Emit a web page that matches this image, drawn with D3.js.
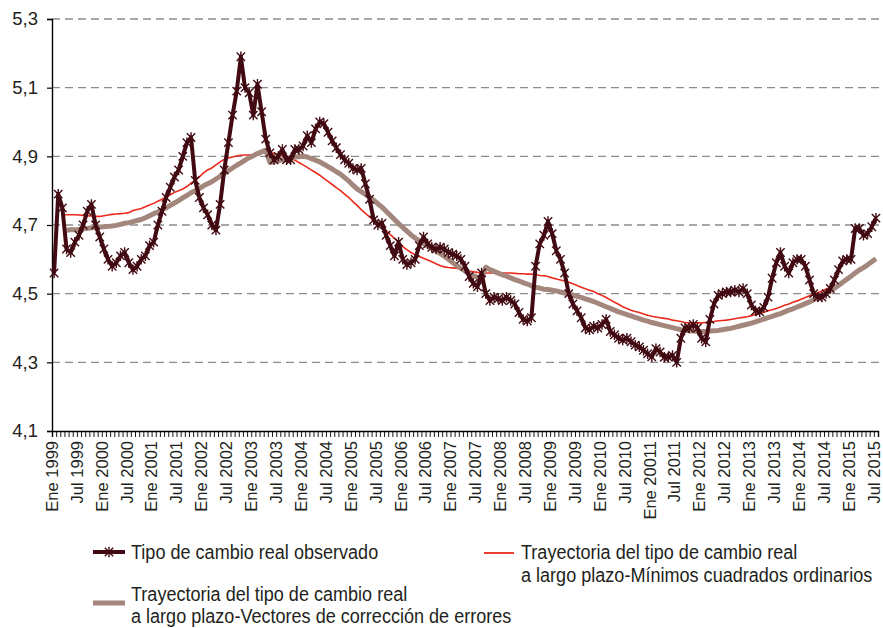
<!DOCTYPE html>
<html>
<head>
<meta charset="utf-8">
<script src="https://cdn.jsdelivr.net/npm/d3@7"></script>
<style>
  body { margin: 0; background: #fff; }
  text { font-family: "Liberation Sans", Arial, sans-serif; fill: #231f20; }
</style>
</head>
<body>
<svg id="chart" width="883" height="628"></svg>
<script>
// Monthly categories, Jan 1999 .. Jul 2015
const firstYear = 1999;
const monthCount = 199;
const categories = d3.range(monthCount).map(i => {
  const yr = firstYear + Math.floor(i / 12), mo = (i % 12) + 1;
  return yr + "-" + String(mo).padStart(2, "0");
});

// Tipo de cambio real observado (log)
const observed = [
  4.56, 4.79, 4.75, 4.63, 4.62, 4.65, 4.67, 4.70, 4.74, 4.76,
  4.70, 4.665, 4.63, 4.60, 4.58, 4.59, 4.61, 4.62, 4.59, 4.57,
  4.58, 4.60, 4.61, 4.64, 4.65, 4.70, 4.74, 4.78, 4.81, 4.84,
  4.86, 4.90, 4.94, 4.955, 4.83, 4.78, 4.75, 4.73, 4.70, 4.685,
  4.76, 4.86, 4.94, 5.02, 5.09, 5.19, 5.10, 5.085, 5.02, 5.11,
  5.03, 4.95, 4.91, 4.89, 4.90, 4.92, 4.89, 4.89, 4.92, 4.92,
  4.93, 4.96, 4.94, 4.98, 5.00, 4.995, 4.97, 4.945, 4.925, 4.905,
  4.89, 4.88, 4.865, 4.86, 4.865, 4.82, 4.775, 4.715, 4.70, 4.705,
  4.67, 4.64, 4.61, 4.65, 4.60, 4.585, 4.59, 4.60, 4.64, 4.665,
  4.645, 4.635, 4.63, 4.635, 4.63, 4.62, 4.615, 4.61, 4.60, 4.58,
  4.55, 4.53, 4.52, 4.56, 4.50, 4.48, 4.49, 4.485, 4.48, 4.49,
  4.48, 4.47, 4.445, 4.425, 4.42, 4.43, 4.58, 4.645, 4.67, 4.71,
  4.675, 4.625, 4.60, 4.56, 4.50, 4.47, 4.45, 4.43, 4.40, 4.395,
  4.405, 4.40, 4.41, 4.425, 4.39, 4.38, 4.37, 4.365, 4.37, 4.36,
  4.35, 4.345, 4.335, 4.325, 4.316, 4.34, 4.33, 4.315, 4.315, 4.32,
  4.30, 4.37, 4.40, 4.40, 4.41, 4.40, 4.37, 4.36, 4.425, 4.47,
  4.495, 4.50, 4.505, 4.505, 4.51, 4.505, 4.515, 4.50, 4.467, 4.45,
  4.447, 4.46, 4.49, 4.545, 4.59, 4.62, 4.58, 4.56, 4.59, 4.60,
  4.60, 4.58, 4.54, 4.50, 4.49, 4.49, 4.50, 4.515, 4.54, 4.57,
  4.595, 4.60, 4.60, 4.69, 4.69, 4.67, 4.675, 4.695, 4.72
];
const observedStart = "1999-01";

// Trayectoria de largo plazo - Mínimos cuadrados ordinarios
const ols = [
  4.730, 4.730, 4.730, 4.730, 4.729, 4.728, 4.727, 4.726,
  4.725, 4.725, 4.727, 4.729, 4.731, 4.732, 4.733, 4.734, 4.736, 4.742,
  4.745, 4.748, 4.753, 4.758, 4.763, 4.769, 4.775, 4.782, 4.788, 4.795,
  4.800, 4.805, 4.812, 4.822, 4.830, 4.840, 4.852, 4.860, 4.866, 4.875,
  4.884, 4.891, 4.895, 4.898, 4.901, 4.903, 4.904, 4.904, 4.905, 4.906,
  4.910, 4.914, 4.911, 4.908, 4.905, 4.902, 4.898, 4.894, 4.889, 4.882,
  4.875, 4.868, 4.860, 4.853, 4.845, 4.836, 4.827, 4.818, 4.809, 4.800,
  4.790, 4.780, 4.768, 4.757, 4.745, 4.734, 4.724, 4.714, 4.704, 4.696,
  4.684, 4.672, 4.661, 4.650, 4.637, 4.628, 4.620, 4.613, 4.608, 4.603,
  4.598, 4.593, 4.587, 4.582, 4.578, 4.576, 4.575, 4.574, 4.572, 4.569,
  4.566, 4.564, 4.562, 4.561, 4.560, 4.560, 4.560, 4.560, 4.560, 4.560,
  4.560, 4.559, 4.558, 4.558, 4.557, 4.557, 4.556, 4.553, 4.552, 4.550,
  4.546, 4.543, 4.540, 4.537, 4.533, 4.529, 4.524, 4.519, 4.514, 4.510,
  4.506, 4.500, 4.495, 4.489, 4.482, 4.475, 4.469, 4.462, 4.457, 4.452,
  4.448, 4.445, 4.441, 4.437, 4.434, 4.432, 4.430, 4.428, 4.426, 4.423,
  4.421, 4.419, 4.416, 4.415, 4.415, 4.415, 4.415, 4.416, 4.417, 4.419,
  4.421, 4.422, 4.423, 4.425, 4.427, 4.429, 4.431, 4.433, 4.436, 4.440,
  4.443, 4.446, 4.450, 4.453, 4.457, 4.461, 4.466, 4.470, 4.475, 4.479,
  4.484, 4.489, 4.494, 4.498, 4.503, 4.508, 4.513, 4.519, 4.525
];
const olsStart = "1999-03";

// Trayectoria de largo plazo - Vectores de corrección de errores
const vec = [
  4.685, 4.686, 4.686, 4.687, 4.689, 4.690, 4.692,
  4.693, 4.694, 4.695, 4.696, 4.697, 4.699, 4.702, 4.705, 4.707, 4.710,
  4.713, 4.716, 4.721, 4.727, 4.733, 4.738, 4.744, 4.750, 4.757, 4.764,
  4.771, 4.779, 4.786, 4.794, 4.800, 4.806, 4.814, 4.820, 4.826, 4.834,
  4.842, 4.850, 4.858, 4.866, 4.874, 4.881, 4.889, 4.896, 4.902, 4.908,
  4.913, 4.918, 4.882, 4.885, 4.887, 4.890, 4.893, 4.896, 4.898, 4.899,
  4.900, 4.898, 4.893, 4.889, 4.884, 4.877, 4.870, 4.863, 4.855, 4.848,
  4.838, 4.828, 4.816, 4.805, 4.797, 4.789, 4.781, 4.772, 4.762, 4.752,
  4.740, 4.728, 4.716, 4.704, 4.693, 4.682, 4.671, 4.662, 4.654, 4.646,
  4.639, 4.632, 4.625, 4.617, 4.609, 4.600, 4.591, 4.582, 4.574, 4.566,
  4.559, 4.553, 4.548, 4.543, 4.577, 4.570, 4.565, 4.560, 4.555, 4.551,
  4.546, 4.541, 4.537, 4.532, 4.528, 4.523, 4.519, 4.516, 4.513, 4.512,
  4.510, 4.508, 4.505, 4.502, 4.499, 4.496, 4.492, 4.489, 4.485, 4.481,
  4.477, 4.472, 4.467, 4.462, 4.457, 4.452, 4.447, 4.443, 4.439, 4.435,
  4.431, 4.427, 4.423, 4.420, 4.416, 4.413, 4.410, 4.407, 4.404, 4.401,
  4.398, 4.395, 4.393, 4.392, 4.391, 4.390, 4.390, 4.390, 4.391, 4.392,
  4.393, 4.395, 4.397, 4.399, 4.402, 4.405, 4.408, 4.411, 4.414, 4.418,
  4.422, 4.426, 4.430, 4.434, 4.438, 4.442, 4.447, 4.452, 4.456, 4.461,
  4.466, 4.471, 4.476, 4.482, 4.488, 4.495, 4.501, 4.508, 4.516, 4.524,
  4.533, 4.542, 4.551, 4.560, 4.569, 4.576, 4.584, 4.593, 4.602
];
const vecStart = "1999-04";

// Axis ticks and labels
const yTicks = [4.1, 4.3, 4.5, 4.7, 4.9, 5.1, 5.3];
const xTickMonths = d3.range(0, monthCount, 6).map(i => categories[i]);
const xTickLabels = [
  "Ene 1999", "Jul 1999", "Ene 2000", "Jul 2000", "Ene 2001", "Jul 2001",
  "Ene 2002", "Jul 2002", "Ene 2003", "Jul 2003", "Ene 2004", "Jul 2004",
  "Ene 2005", "Jul 2005", "Ene 2006", "Jul 2006", "Ene 2007", "Jul 2007",
  "Ene 2008", "Jul 2008", "Ene 2009", "Jul 2009", "Ene 2010", "Jul 2010",
  "Ene 20011", "Jul 2011", "Ene 2012", "Jul 2012", "Ene 2013", "Jul 2013",
  "Ene 2014", "Jul 2014", "Ene 2015", "Jul 2015"
];

const seriesNames = [
  ["Tipo de cambio real observado"],
  ["Trayectoria del tipo de cambio real", "a largo plazo-Mínimos cuadrados ordinarios"],
  ["Trayectoria del tipo de cambio real", "a largo plazo-Vectores de corrección de errores"]
];

const colObserved = "#420a12";
const colOls = "#ec2a1c";
const colVec = "#a4877c";

// ---------- drawing ----------
const svg = d3.select("#chart");
const plotL = 52, plotR = 878, plotT = 19, plotB = 431;

const x = d3.scaleBand().domain(categories).range([plotL, plotR]).padding(0);
const xEdge = d3.scaleLinear().domain([0, monthCount]).range([plotL, plotR]);
const y = d3.scaleLinear().domain([4.1, 5.3]).range([plotB, plotT]);
const cx = c => x(c) + x.bandwidth() / 2;

function toPoints(values, start) {
  const s = categories.indexOf(start);
  return values.map((v, k) => ({ c: categories[s + k], v }));
}

// horizontal dashed grid
svg.append("g")
  .selectAll("line")
  .data(yTicks.slice(1))
  .join("line")
  .attr("x1", plotL).attr("x2", 880)
  .attr("y1", d => y(d)).attr("y2", d => y(d))
  .attr("stroke", "#8c8c8c")
  .attr("stroke-width", 1.3)
  .attr("stroke-dasharray", "8,5");

// y axis
const yAxis = svg.append("g")
  .attr("transform", `translate(${plotL},0)`)
  .call(d3.axisLeft(y).tickValues(yTicks).tickSize(5).tickPadding(9)
    .tickFormat(d => d.toFixed(1).replace(".", ",")));
yAxis.select(".domain").attr("stroke", "#000").attr("stroke-width", 1.4);
yAxis.selectAll(".tick line").attr("stroke", "#000").attr("stroke-width", 1.2);
yAxis.selectAll(".tick text")
  .style("font-family", '"Liberation Sans", Arial, sans-serif')
  .style("font-size", "18.5px").attr("fill", "#231f20");

// x axis: one tick per month boundary
const xAxis = svg.append("g")
  .attr("transform", `translate(0,${plotB})`)
  .call(d3.axisBottom(xEdge).tickValues(d3.range(monthCount + 1)).tickSize(6).tickFormat(""));
xAxis.select(".domain").attr("stroke", "#000").attr("stroke-width", 1.4);
xAxis.selectAll(".tick line").attr("stroke", "#000").attr("stroke-width", 0.9);

// rotated semester labels
svg.append("g")
  .selectAll("text")
  .data(xTickMonths)
  .join("text")
  .attr("transform", (c) => `translate(${cx(c) - 2},441) rotate(-90)`)
  .attr("text-anchor", "end")
  .attr("dy", "0.35em")
  .style("font-size", "16.5px")
  .text((c, i) => xTickLabels[i]);

const line = d3.line().x(d => cx(d.c)).y(d => y(d.v));

// OLS trajectory
svg.append("path")
  .datum(toPoints(ols, olsStart))
  .attr("d", line)
  .attr("fill", "none")
  .attr("stroke", colOls)
  .attr("stroke-width", 1.6);

// VEC trajectory
svg.append("path")
  .datum(toPoints(vec, vecStart))
  .attr("d", line)
  .attr("fill", "none")
  .attr("stroke", colVec)
  .attr("stroke-width", 5)
  .attr("stroke-linejoin", "round");

// observed series with star markers
const obsPts = toPoints(observed, observedStart);
svg.append("path")
  .datum(obsPts)
  .attr("d", line)
  .attr("fill", "none")
  .attr("stroke", colObserved)
  .attr("stroke-width", 4)
  .attr("stroke-linejoin", "round");

const ms = 4.2;
const starPath = `M${-ms},${-ms}L${ms},${ms}M${-ms},${ms}L${ms},${-ms}M0,${-ms - 1}L0,${ms + 1}`;
svg.append("g")
  .selectAll("path")
  .data(obsPts)
  .join("path")
  .attr("transform", d => `translate(${cx(d.c)},${y(d.v)})`)
  .attr("d", starPath)
  .attr("fill", "none")
  .attr("stroke", colObserved)
  .attr("stroke-width", 1.4);

// legend (condensed lettering)
const lg = svg.append("g").style("font-size", "21px");
function legendText(xp, yp, lines, gap) {
  lines.forEach((t, i) => {
    lg.append("text")
      .attr("transform", `translate(${xp},${yp + i * gap}) scale(0.86,1)`)
      .text(t);
  });
}
// observed
lg.append("line").attr("x1", 93).attr("x2", 125).attr("y1", 552).attr("y2", 552)
  .attr("stroke", colObserved).attr("stroke-width", 4);
lg.append("path").attr("transform", "translate(109,552)").attr("d", starPath)
  .attr("fill", "none").attr("stroke", colObserved).attr("stroke-width", 1.4);
legendText(131, 559, seriesNames[0], 22.5);
// ols
lg.append("line").attr("x1", 484).attr("x2", 514).attr("y1", 553).attr("y2", 553)
  .attr("stroke", colOls).attr("stroke-width", 1.8);
legendText(521, 559, seriesNames[1], 22.5);
// vec
lg.append("line").attr("x1", 93).attr("x2", 125).attr("y1", 603).attr("y2", 603)
  .attr("stroke", colVec).attr("stroke-width", 5);
legendText(131, 601, seriesNames[2], 21.5);
</script>
</body>
</html>
